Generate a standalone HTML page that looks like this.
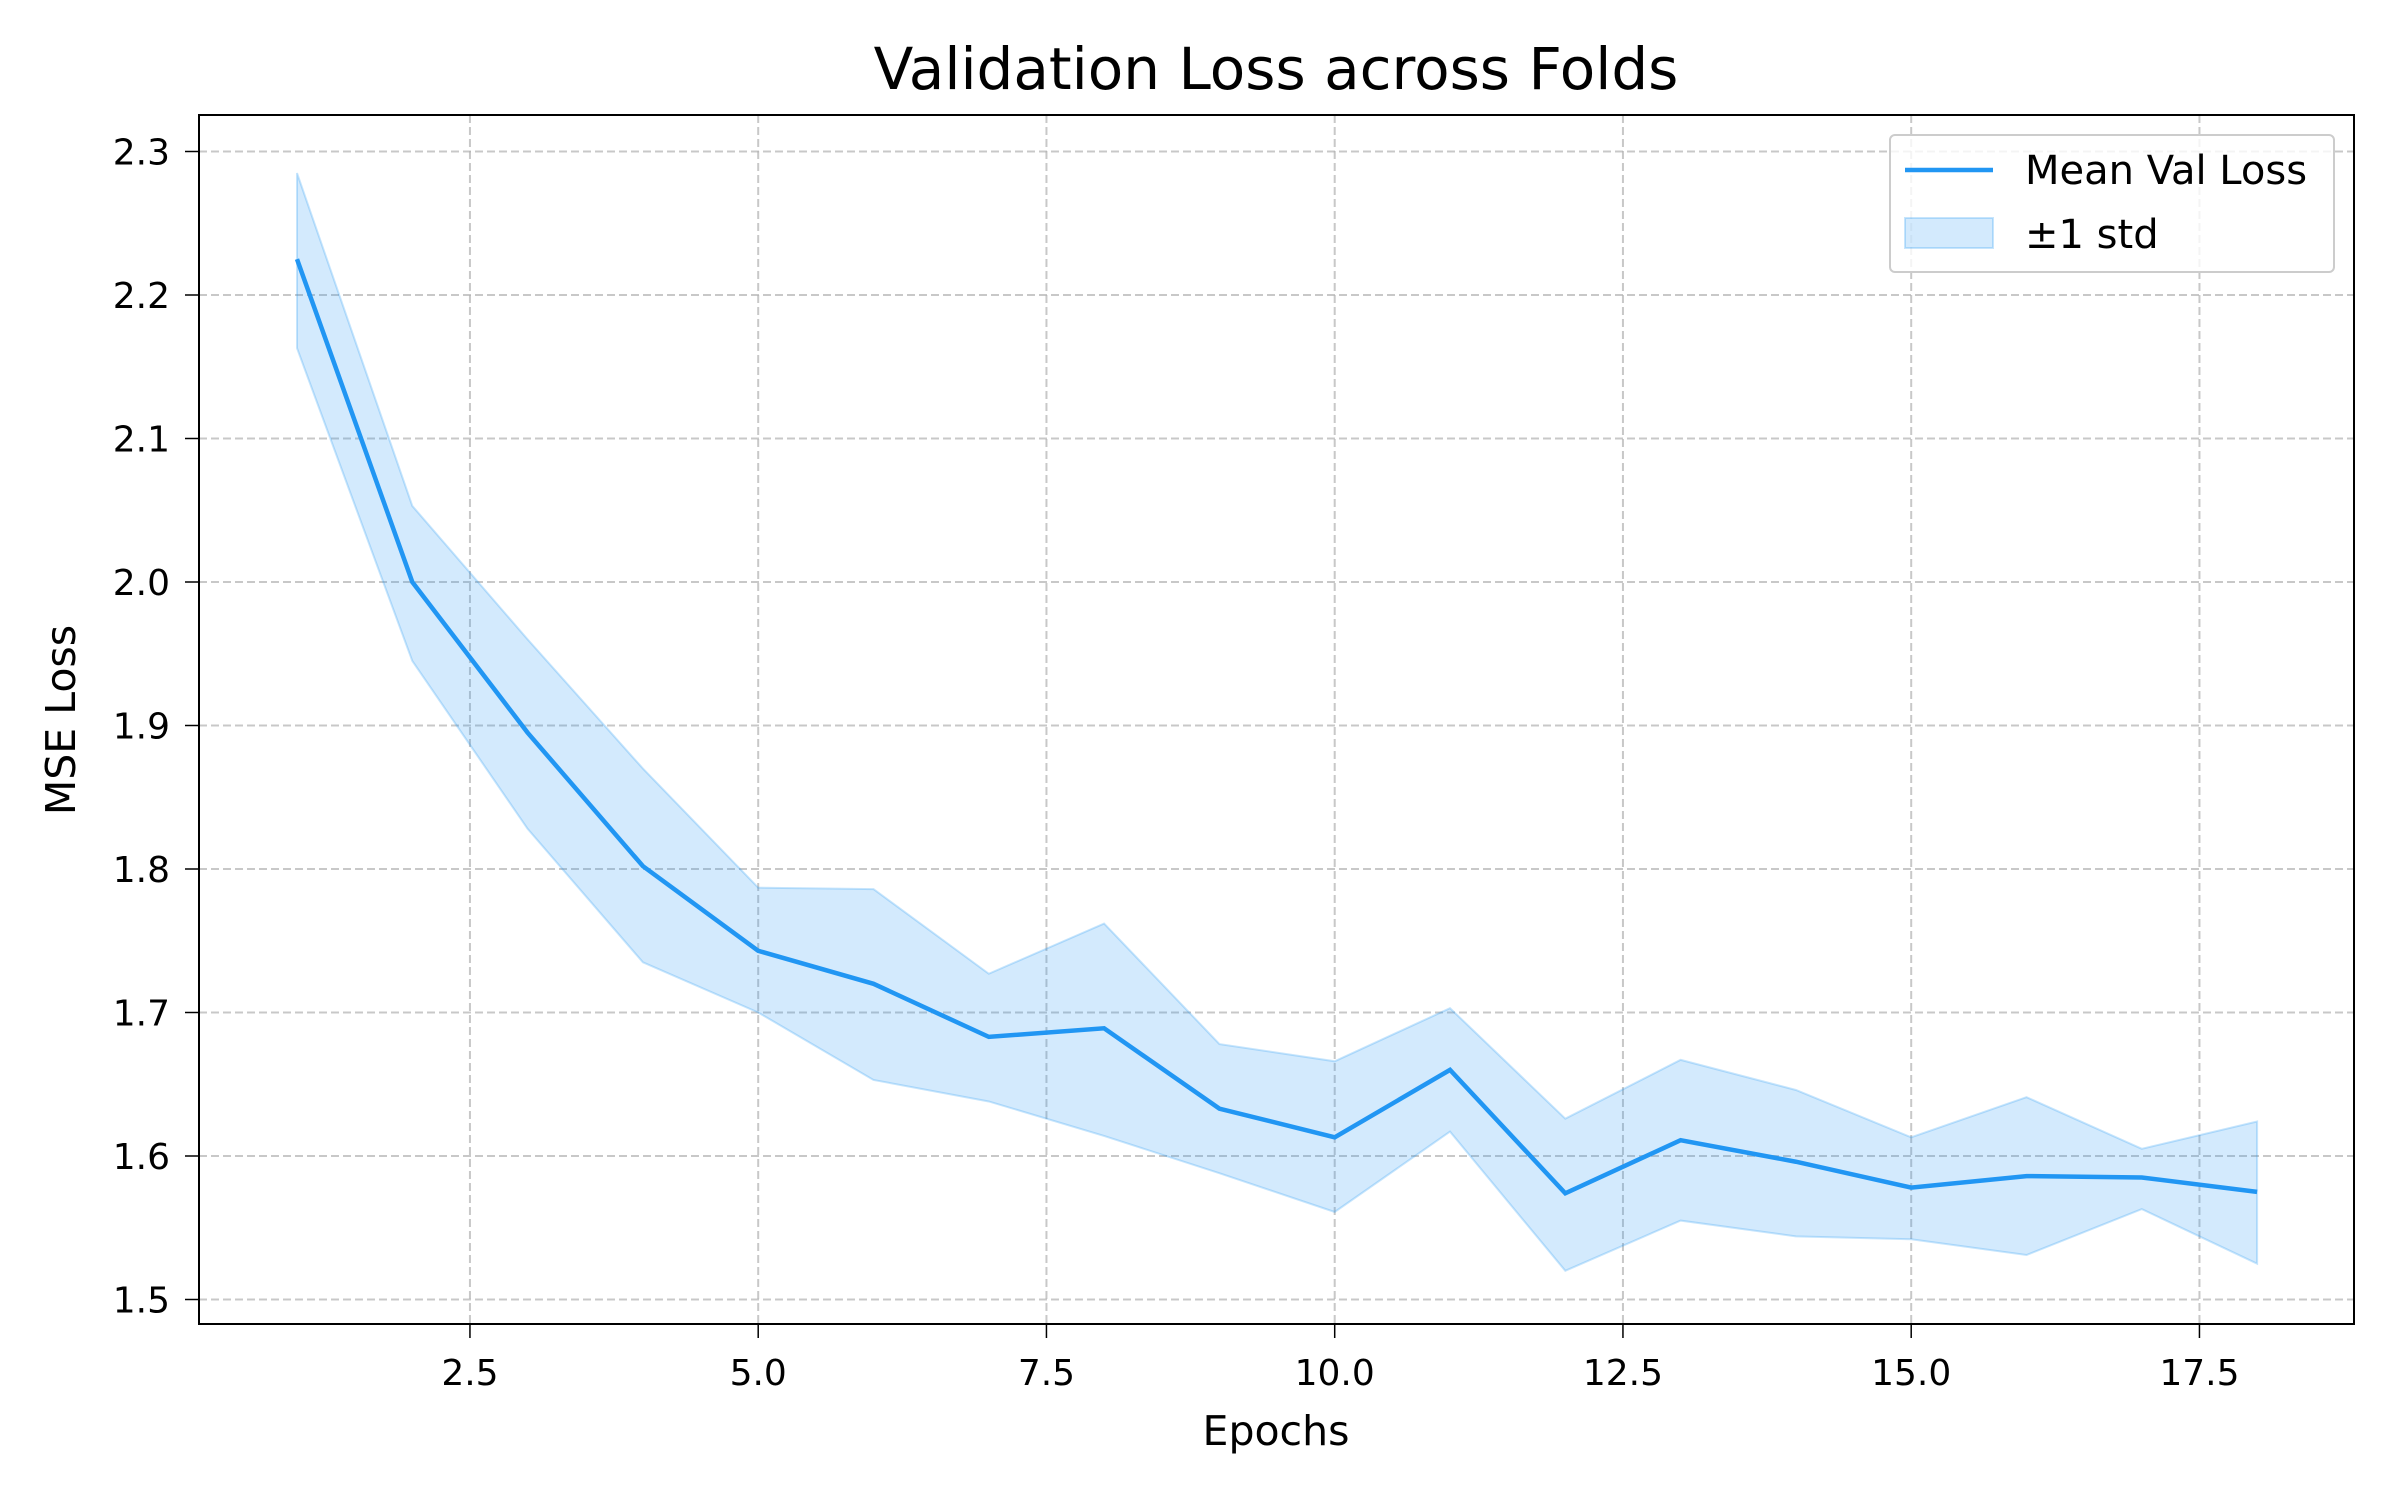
<!DOCTYPE html>
<html><head><meta charset="utf-8"><style>
html,body{margin:0;padding:0;background:#fff;}
svg{display:block;font-family:"DejaVu Sans","Liberation Sans",sans-serif;}
</style></head><body>
<svg id="chart" width="2400" height="1500" viewBox="0 0 2400 1500" xmlns="http://www.w3.org/2000/svg">
<rect width="2400" height="1500" fill="#fff"/>
<g id="grid"></g><g id="band"></g><g id="line"></g>
<rect x="199" y="115" width="2155" height="1209" fill="none" stroke="#000" stroke-width="2"/>
<g id="xticks"></g><g id="yticks"></g>
<text x="1276" y="89" font-size="58" text-anchor="middle">Validation Loss across Folds</text>
<text x="1276" y="1445" font-size="41" text-anchor="middle">Epochs</text>
<text transform="translate(75,720) rotate(-90)" font-size="41" text-anchor="middle">MSE Loss</text>
<g>
<rect x="1890" y="135" width="444" height="137" rx="5" fill="#fff" fill-opacity="0.8" stroke="#ccc" stroke-width="2"/>
<line x1="1905" y1="170" x2="1993" y2="170" stroke="#2196F3" stroke-width="4.5"/>
<text x="2025" y="184" font-size="40">Mean Val Loss</text>
<rect x="1905" y="218" width="88" height="30" fill="#2196F3" fill-opacity="0.2" stroke="#2196F3" stroke-opacity="0.25" stroke-width="2"/>
<text x="2025" y="248" font-size="40">±1 std</text>
</g>
</svg>
<script>
const epochs=[1,2,3,4,5,6,7,8,9,10,11,12,13,14,15,16,17,18];
const meanLoss=[2.225,2.000,1.895,1.802,1.743,1.720,1.683,1.689,1.633,1.613,1.660,1.574,1.611,1.596,1.578,1.586,1.585,1.575];
const upperLoss=[2.285,2.053,1.960,1.870,1.787,1.786,1.727,1.762,1.678,1.666,1.703,1.626,1.667,1.646,1.613,1.641,1.605,1.624];
const lowerLoss=[2.163,1.945,1.828,1.735,1.700,1.653,1.638,1.614,1.588,1.561,1.617,1.520,1.555,1.544,1.542,1.531,1.563,1.525];
const xTickVals=[2.5,5.0,7.5,10.0,12.5,15.0,17.5];
const xTickLabels=["2.5","5.0","7.5","10.0","12.5","15.0","17.5"];
const yTickVals=[1.5,1.6,1.7,1.8,1.9,2.0,2.1,2.2,2.3];
const yTickLabels=["1.5","1.6","1.7","1.8","1.9","2.0","2.1","2.2","2.3"];
const NS="http://www.w3.org/2000/svg";
const X=v=>297+(v-1)*115.3;
const Y=v=>1299.5-(v-1.5)*1435;
function mk(tag,attrs,parent){const e=document.createElementNS(NS,tag);for(const k in attrs)e.setAttribute(k,attrs[k]);document.getElementById(parent).appendChild(e);return e;}
xTickVals.forEach((v,i)=>{
  const g=mk('line',{x1:X(v),x2:X(v),y1:115,y2:1324,stroke:'#b0b0b0','stroke-opacity':0.7,'stroke-dasharray':'8,4','stroke-width':2},'grid');
  
  
  const t=mk('line',{x1:X(v),x2:X(v),y1:1324,y2:1338,stroke:'#000','stroke-width':1.5},'xticks');
  
  
  const l=mk('text',{x:X(v),y:1385,'font-size':36,'text-anchor':'middle'},'xticks');
  l.textContent=xTickLabels[i];
  
  
});
yTickVals.forEach((v,i)=>{
  const g=mk('line',{x1:199,x2:2354,y1:Y(v),y2:Y(v),stroke:'#b0b0b0','stroke-opacity':0.7,'stroke-dasharray':'8,4','stroke-width':2},'grid');
  
  
  const t=mk('line',{x1:185,x2:199,y1:Y(v),y2:Y(v),stroke:'#000','stroke-width':1.5},'yticks');
  
  
  const l=mk('text',{x:170,y:Y(v)+13,'font-size':36,'text-anchor':'end'},'yticks');
  l.textContent=yTickLabels[i];
  
  
});
let d=epochs.map((e,i)=>(i?'L':'M')+X(e)+','+Y(upperLoss[i])).join(' ');
for(let i=epochs.length-1;i>=0;i--)d+=' L'+X(epochs[i])+','+Y(lowerLoss[i]);
const band=mk('path',{d:d+' Z',fill:'#2196F3','fill-opacity':0.2,stroke:'#2196F3','stroke-opacity':0.25,'stroke-width':2},'band');


const ln=mk('polyline',{points:epochs.map((e,i)=>X(e)+','+Y(meanLoss[i])).join(' '),fill:'none',stroke:'#2196F3','stroke-width':4.5},'line');


</script>
</body></html>
